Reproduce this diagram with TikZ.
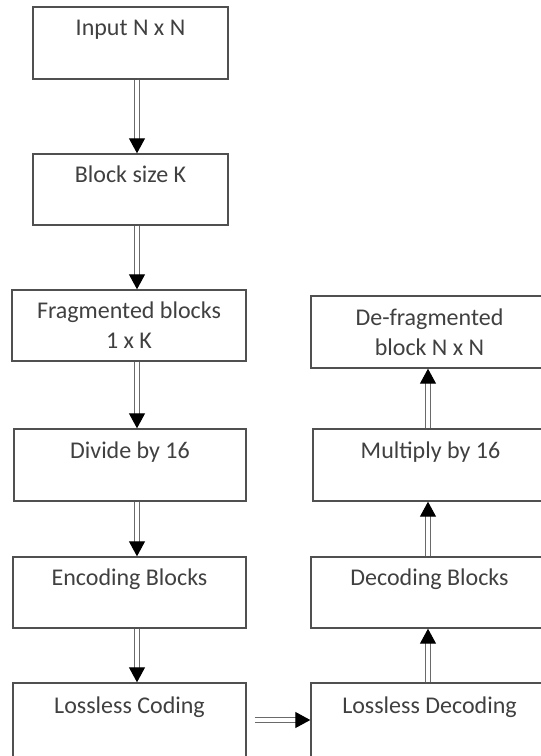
\documentclass[tikz,border=0pt]{standalone}
\usepackage{fontspec}
\setmainfont{Carlito}
\usetikzlibrary{arrows.meta}
\definecolor{boxline}{HTML}{505050}
\definecolor{txt}{HTML}{404040}
\definecolor{shaft}{HTML}{6A6A6A}
\tikzset{
  box/.style={draw=boxline, line width=1.4pt, rectangle, align=center, inner sep=0pt,
    font=\fontsize{24}{30}\selectfont, text=txt},
  dblarrow/.style={draw=shaft, double=white, double distance=3.5pt, line width=1.1pt,
    -{Triangle[length=15pt,width=16pt,fill=black,color=black]}},
}
\begin{document}
\begin{tikzpicture}[x=1pt,y=-1pt]
\useasboundingbox (0,0) rectangle (541,756);
\fill[white] (0,0) rectangle (541,756);
\coordinate (axL) at (137,0);
\coordinate (axR) at (428,0);
% left column
\node[box, minimum width=195pt, minimum height=72pt] (inp) at (130.5,43) {Input N x N\\ \mbox{}};
\node[box, minimum width=195pt, minimum height=71pt] (blk) at (130.5,189.5) {Block size K\\ \mbox{}};
\node[box, minimum width=234pt, minimum height=71pt] (frag) at (129,325.5) {Fragmented blocks\\ 1 x K};
\node[box, minimum width=232pt, minimum height=72pt] (div) at (130,465) {Divide by 16\\ \mbox{}};
\node[box, minimum width=233pt, minimum height=71pt] (enc) at (129.5,592.5) {Encoding Blocks\\ \mbox{}};
\node[box, minimum width=233pt, minimum height=74pt] (lc) at (129.5,720) {Lossless Coding\\ \mbox{}};
% right column
\node[box, minimum width=237pt, minimum height=74pt] (ld) at (429.5,720) {Lossless Decoding\\ \mbox{}};
\node[box, minimum width=237pt, minimum height=71pt] (db) at (429.5,592.5) {Decoding Blocks\\ \mbox{}};
\node[box, minimum width=235pt, minimum height=72pt] (mul) at (430.5,465) {Multiply by 16\\ \mbox{}};
\node[box, minimum width=237pt, minimum height=72pt] (df) at (429.5,332) {De-fragmented\\ block N x N};
% arrows
\draw[dblarrow] (inp.south -| axL) -- (blk.north -| axL);
\draw[dblarrow] (blk.south -| axL) -- (frag.north -| axL);
\draw[dblarrow] (frag.south -| axL) -- (div.north -| axL);
\draw[dblarrow] (div.south -| axL) -- (enc.north -| axL);
\draw[dblarrow] (enc.south -| axL) -- (lc.north -| axL);
\draw[dblarrow, shorten <=8pt] (lc.east) -- (ld.west);
\draw[dblarrow] (ld.north -| axR) -- (db.south -| axR);
\draw[dblarrow] (db.north -| axR) -- (mul.south -| axR);
\draw[dblarrow] (mul.north -| axR) -- (df.south -| axR);
\end{tikzpicture}
\end{document}
